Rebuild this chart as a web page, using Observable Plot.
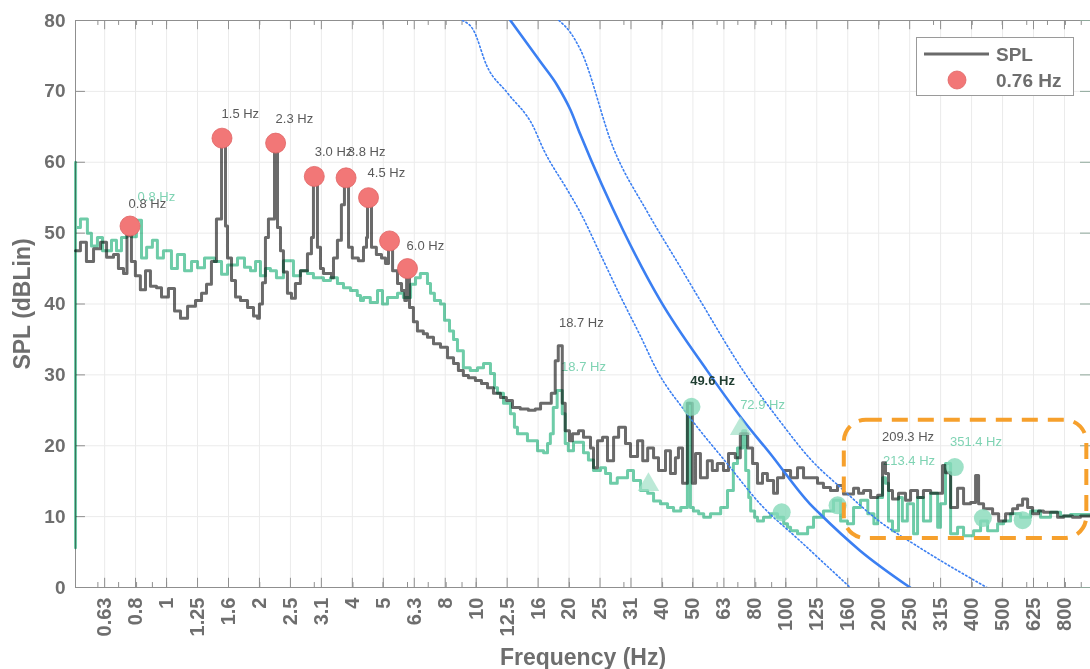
<!DOCTYPE html>
<html><head><meta charset="utf-8">
<script src="https://cdn.jsdelivr.net/npm/d3@7"></script>
<script src="https://cdn.jsdelivr.net/npm/@observablehq/plot@0.6"></script>
<style>
body{margin:0;background:#fff;}
#wrap{position:relative;width:1090px;height:669px;overflow:hidden;font-family:"Liberation Sans",Arial,sans-serif;}
#legend{position:absolute;left:916px;top:37px;width:158px;height:59px;border:1px solid #9a9a9a;background:#fff;box-sizing:border-box;}
#legend svg{position:absolute;left:0;top:0;}
</style></head>
<body><div id="wrap"><div id="legend"></div></div>
<script>
// ---- axis ticks ----
const xTicks = [0.631,0.794,1,1.259,1.585,1.995,2.512,3.162,3.981,5.012,6.31,7.943,10,12.59,15.85,19.95,25.12,31.62,39.81,50.12,63.1,79.43,100,125.9,158.5,199.5,251.2,316.2,398.1,501.2,631,794.3];
const xTickLabels = ["0.63","0.8","1","1.25","1.6","2","2.5","3.1","4","5","6.3","8","10","12.5","16","20","25","31","40","50","63","80","100","125","160","200","250","315","400","500","625","800"];
const xMinorTicks = [0.6,0.7,0.8,0.9,1,2,3,4,5,6,7,8,9,10,20,30,40,50,60,70,80,90,100,200,300,400,500,600,700,800,900];
const yTicks = [0,10,20,30,40,50,60,70,80];

// ---- grey SPL spectrum ----
const greyHz = [0.508,0.527,0.551,0.581,0.612,0.640,0.674,0.699,0.726,0.745,0.754,0.770,0.793,0.823,0.855,0.887,0.928,0.963,1.014,1.061,1.109,1.169,1.240,1.297,1.346,1.396,1.449,1.505,1.550,1.573,1.621,1.670,1.733,1.826,1.909,1.967,1.995,2.040,2.086,2.133,2.231,2.282,2.333,2.385,2.457,2.532,2.607,2.706,2.851,2.937,2.981,3.071,3.141,3.212,3.41,3.46,3.563,3.67,3.754,3.870,3.981,4.164,4.325,4.423,4.457,4.590,4.760,4.945,5.095,5.210,5.370,5.570,5.740,5.880,5.960,6.090,6.270,6.460,6.750,6.960,7.280,7.670,8.080,8.450,8.760,9.090,9.440,9.940,10.40,10.88,11.37,11.98,12.52,13.10,13.88,14.74,15.51,16.14,17.00,17.48,18.00,18.41,18.97,19.39,20.01,20.46,21.40,22.21,23.40,23.93,24.66,25.59,26.55,27.78,28.84,30.35,31.50,33.20,34.50,35.80,37.40,38.80,40.87,42.40,44.00,45.00,46.40,48.10,49.90,51.10,53.00,55.80,57.90,60.10,62.90,65.30,68.70,71.30,75.30,78.10,81.00,84.10,87.20,91.30,94.00,98.40,103.6,109.1,114.1,126.6,132.3,139.4,146.9,153.6,165.5,171.8,178.3,187.9,198.0,205.3,209.9,214.6,221.1,231.2,243.6,252.9,266.4,278.3,293.6,320.7,327.9,340.6,358.7,375.1,395.0,410.1,419.4,435.3,465.5,486.8,512.5,540,560.4,581.7,603.8,626.7,654.9,679.8,754.5,789,843.1,894.8,964];
const greyDb = [47.5,48.7,46.0,47.8,48.7,46.6,47.0,45.0,44.3,49.6,51.0,46.0,44.0,42.0,44.7,42.5,42.3,41.0,42.2,39.0,38.0,39.7,40.5,41.5,42.8,46.0,52.0,63.4,51.0,46.5,43.3,41.0,40.5,39.5,38.3,38.0,40.0,43.0,49.4,52.0,62.7,50.8,47.5,44.5,41.5,40.8,42.9,44.7,47.1,49.4,58.0,48.0,45.0,44.3,43.7,46.5,49.0,54.0,57.8,48.0,46.5,46.1,48.0,49.4,55.0,48.0,47.0,46.5,45.7,48.9,44.7,42.9,41.9,40.5,45.0,39.5,37.5,36.2,35.8,35.3,34.4,33.9,32.4,31.6,30.6,29.9,29.6,29.2,28.8,28.2,27.4,26.8,26.4,25.4,25.2,25.0,25.2,26.0,26.0,27.4,32.0,34.1,26.0,22.1,20.7,21.7,22.1,21.2,19.7,16.9,20.7,21.2,17.9,21.2,22.6,20.3,18.5,20.7,17.9,19.7,18.3,16.5,19.3,16.1,18.3,19.7,14.7,26.0,14.7,18.9,15.5,17.9,16.5,17.5,16.5,18.9,18.3,21.7,19.7,17.5,14.7,16.1,15.1,13.3,15.5,16.5,15.5,16.9,15.5,14.7,14.1,13.7,14.4,13.2,14.0,13.3,13.7,12.7,13.0,17.6,16.1,13.7,12.5,13.3,12.3,13.7,12.7,13.7,13.3,17.2,16.2,11.3,14.0,11.8,12.0,15.8,11.8,11.1,10.4,9.4,10.4,11.1,11.6,12.5,11.3,10.4,10.8,10.6,9.9,10.1,9.9,10.1,10.1];

// ---- teal second spectrum ----
const greenHz = [0.508,0.5081,0.5083,0.527,0.555,0.572,0.598,0.621,0.664,0.689,0.715,0.742,0.770,0.799,0.830,0.862,0.900,0.934,0.977,1.037,1.084,1.143,1.204,1.259,1.326,1.428,1.505,1.573,1.695,1.785,1.867,1.938,2.010,2.086,2.165,2.264,2.385,2.569,2.706,2.851,2.981,3.212,3.383,3.563,3.727,3.926,4.13,4.23,4.325,4.55,4.80,4.98,5.17,5.57,5.82,6.14,6.37,6.60,6.96,7.12,7.33,7.67,7.90,8.20,8.45,8.70,9.09,9.57,10.1,10.56,11.12,11.46,11.72,12.25,12.90,13.29,13.59,14.64,15.78,16.51,17.0,17.36,17.74,18.26,18.97,19.39,19.84,20.62,22.21,23.04,23.93,25.21,26.17,27.16,28.55,30.82,32.21,33.96,35.8,37.4,39.37,41.5,43.4,45.8,48.1,49.2,50.3,52.3,54.3,57.1,61.6,64.8,67.7,69.8,72.6,74.2,75.9,77.0,79.3,81.0,84.7,89.2,94.0,98.4,101.3,103.6,109.1,117.6,122.9,132.3,142.6,150.3,158.2,165.5,174.3,184.0,192.5,198.0,205.3,209.9,214.6,221.1,231.2,237.9,246.9,258.6,266.4,278.3,293.6,309.3,316,327.9,340.6,358.7,375.1,404.1,425.7,448.5,483.1,505,532,573,617.4,664.8,716.2,771.5,830.6,964];
const greenDb = [5.6,60,50.8,52,50,48.2,49.4,47.5,49,47.5,49.4,50.5,49.5,51.8,46.5,48,49,46.5,47.5,45,47,44.7,46,45.1,46.5,46,44.2,45.5,46.5,45.2,44.7,46,44,45,44.7,43.7,46.1,44,44.7,44.3,43.7,43.3,43.7,42.9,42.3,41.9,41.2,40.5,40.9,40.2,41.9,40,40.9,41.5,40.9,42.8,43.7,44.3,42.9,41.5,40.5,40,37.7,36.2,35,33.4,31,30.6,31,31.6,30.2,28.2,27.4,26,24.5,22.6,21.7,20.7,19.3,19,20.3,21.7,25.4,27.8,24.5,20.3,19.3,20.5,19,18,16.5,16.9,16.1,14.7,15.5,16.5,15.1,13.7,13.3,12.2,11.8,11.3,10.8,11.3,26,11.3,10.8,10.4,9.9,10.4,11.3,13.7,17.5,19.7,22.1,16.5,12.7,10.8,9.9,9.4,9.9,10.4,9.9,9.0,8.5,8.0,7.6,8.5,9.9,10.8,12.3,9.4,9.0,11.3,12.3,10.4,9.0,12.7,15.5,14.7,9.4,8.0,12.7,9.4,11.8,7.6,12.7,9.4,13.3,8.5,11.8,17.5,7.6,8.5,7.3,8.0,9.4,8.0,9.0,9.4,10.4,9.9,10.8,9.9,10.6,10.1,10.3,10.3];

// ---- blue reference curves ----
const blueHz = [12.9,16.1,18.3,20.15,21.7,29.9,39.3,55.7,72.8,89,119.6,128.8,173.8,252];
const blueDb = [80,74.2,70.8,67.4,63.9,50.3,40.5,30.6,23.6,18.9,11.8,10.4,5.2,0];
const lowerHz = [9.03,9.78,10.85,12.6,15.3,16.5,19.7,21.7,25.2,29.3,33.9,38.4,48.0,64.6,82.6,111,161.4];
const lowerDb = [80,78.7,73.5,69.8,65.0,61.8,56.1,52.9,47,41,35.5,30.6,24.5,17.5,11.8,6.6,0];
const upperHz = [18.5,20.15,21.7,27.8,35.7,45.8,52.9,72.8,95.6,119.6,153,197,271,446];
const upperDb = [80,78.3,75.9,61.9,53,45.1,40.5,30.6,23.5,18.2,13.8,9.6,5.6,0];

// ---- peak markers ----
const peakHz = [0.762,1.51,2.25,3.0,3.80,4.49,5.25,6.0];
const peakDb = [51.0,63.4,62.7,58.0,57.8,55.0,48.9,45.0];
const tealDotHz = [49.6,97,147,351.4,433,582];
const tealDotDb = [25.5,10.6,11.6,17.0,9.8,9.5];
const tealTriHz = [36,71.5];
const tealTriDb = [14.5,22.4];

// ---- annotations ----
const greyLabelText = ["0.8 Hz","1.5 Hz","2.3 Hz","3.0 Hz","3.8 Hz","4.5 Hz","6.0 Hz","18.7 Hz","209.3 Hz"];
const greyLabelHz = [0.754,1.505,2.25,3.01,3.85,4.46,5.96,18.5,204.5];
const greyLabelDb = [54.2,66.9,66.1,61.4,61.4,58.5,48.2,37.4,21.2];
const tealLabelText = ["0.8 Hz","18.7 Hz","72.9 Hz","213.4 Hz","351.4 Hz"];
const tealLabelHz = [0.806,18.8,71.2,206,339];
const tealLabelDb = [55.1,31.2,25.8,17.9,20.5];
const darkLabelText = ["49.6 Hz"];
const darkLabelHz = [49.1];
const darkLabelDb = [29.1];
const boxHz = [154.5,938];
const boxDb = [6.9,23.6];

const zipXY = (xs, ys) => xs.map((f, i) => ({f, db: ys[i]}));
const grey = zipXY(greyHz, greyDb);
const green = zipXY(greenHz, greenDb);
const blue = zipXY(blueHz, blueDb);
const lower = zipXY(lowerHz, lowerDb);
const upper = zipXY(upperHz, upperDb);
const peaks = zipXY(peakHz, peakDb);
const tealDots = zipXY(tealDotHz, tealDotDb);
const tealTris = zipXY(tealTriHz, tealTriDb);
const lbl = (t, xs, ys) => t.map((s, i) => ({text: s, f: xs[i], db: ys[i]}));
const greyLabels = lbl(greyLabelText, greyLabelHz, greyLabelDb);
const tealLabels = lbl(tealLabelText, tealLabelHz, tealLabelDb);
const darkLabels = lbl(darkLabelText, darkLabelHz, darkLabelDb);
const box = [{x1: boxHz[0], x2: boxHz[1], y1: boxDb[0], y2: boxDb[1]}];
const xTickData = xTicks.map((t, i) => ({f: t, label: xTickLabels[i]}));

const AX = "#6e6e6e";
const chart = Plot.plot({
  width: 1090, height: 669,
  marginLeft: 75, marginRight: 0, marginTop: 20, marginBottom: 82,
  style: {fontFamily: "'Liberation Sans', Arial, sans-serif", color: AX, background: "#fff", overflow: "visible"},
  x: {type: "log", domain: [0.508, 964], axis: null},
  y: {domain: [0, 80]},
  marks: [
    Plot.gridX(xTicks, {stroke: "#ebebeb", strokeOpacity: 1}),
    Plot.gridY(yTicks, {stroke: "#ebebeb", strokeOpacity: 1}),
    Plot.frame({stroke: "#8f8f8f"}),
    Plot.ruleX(xTicks, {y1: 0, y2: 1.3, stroke: "#8f8f8f"}),
    Plot.ruleX(xTicks, {y1: 78.7, y2: 80, stroke: "#8f8f8f"}),
    Plot.ruleX(xMinorTicks, {y1: 0, y2: 0.7, stroke: "#8f8f8f"}),
    Plot.ruleX(xMinorTicks, {y1: 79.3, y2: 80, stroke: "#8f8f8f"}),
    Plot.ruleY(yTicks, {x1: 0.508, x2: 0.547, stroke: "#8f8f8f"}),
    Plot.ruleY(yTicks, {x1: 895, x2: 964, stroke: "#8fa89b"}),
    Plot.text(xTickData, {x: "f", frameAnchor: "bottom", text: "label", rotate: -90, textAnchor: "end", lineAnchor: "middle", dy: 10, fontSize: 20, fontWeight: "bold", fill: AX}),
    Plot.axisY({ticks: yTicks, tickSize: 0, tickPadding: 10, fontSize: 19, fontWeight: "bold", label: null}),
    Plot.text(["Frequency (Hz)"], {frameAnchor: "bottom", dy: 70, lineAnchor: "middle", textAnchor: "middle", fontSize: 23, fontWeight: "bold", fill: AX}),
    Plot.text(["SPL (dBLin)"], {frameAnchor: "left", dx: -53, rotate: -90, textAnchor: "middle", lineAnchor: "middle", fontSize: 23, fontWeight: "bold", fill: AX}),
    Plot.text(tealLabels, {x: "f", y: "db", text: "text", textAnchor: "start", fill: "#7fd3b3", fontSize: 13}),
    Plot.line(green, {x: "f", y: "db", curve: "step-after", stroke: "#6ecca8", strokeWidth: 3, mixBlendMode: "multiply"}),
    Plot.line(grey, {x: "f", y: "db", curve: "step-after", stroke: "#6a6a6a", strokeWidth: 3, mixBlendMode: "multiply"}),
    Plot.line(lower, {x: "f", y: "db", curve: "monotone-x", stroke: "#3b7ff2", strokeWidth: 1.6, strokeDasharray: "1.5,2.5", clip: true}),
    Plot.line(upper, {x: "f", y: "db", curve: "monotone-x", stroke: "#3b7ff2", strokeWidth: 1.6, strokeDasharray: "1.5,2.5", clip: true}),
    Plot.line(blue, {x: "f", y: "db", curve: "monotone-x", stroke: "#3b7ff2", strokeWidth: 2.6, clip: true}),
    Plot.dot(tealDots, {x: "f", y: "db", r: 9, fill: "#86d9b9", fillOpacity: 0.8}),
    Plot.dot(tealTris, {x: "f", y: "db", r: 8, symbol: "triangle", fill: "#9fe0c6", fillOpacity: 0.7}),
    Plot.dot(peaks, {x: "f", y: "db", r: 10, fill: "#f27777", stroke: "#e06464", strokeWidth: 0.8}),
    Plot.text(greyLabels, {x: "f", y: "db", text: "text", textAnchor: "start", fill: "#5a5a5a", fontSize: 13}),
    Plot.text(darkLabels, {x: "f", y: "db", text: "text", textAnchor: "start", fill: "#1f3d31", fontSize: 13, fontWeight: "bold"}),
    Plot.rect(box, {x1: "x1", x2: "x2", y1: "y1", y2: "y2", rx: 22, fill: "none", stroke: "#f6a02c", strokeWidth: 4, strokeDasharray: "16,10"})
  ]
});
document.getElementById("wrap").insertBefore(chart, document.getElementById("legend"));

// legend (inside plot, top-right)
const lg = d3.select("#legend").append("svg").attr("width", 158).attr("height", 59)
  .style("font-family", "'Liberation Sans', Arial, sans-serif");
lg.append("line").attr("x1", 7).attr("x2", 72).attr("y1", 16).attr("y2", 16).attr("stroke", "#6a6a6a").attr("stroke-width", 3);
lg.append("text").attr("x", 79).attr("y", 16).attr("dy", "0.35em").attr("font-size", 19).attr("font-weight", "bold").attr("fill", AX).text("SPL");
lg.append("circle").attr("cx", 40).attr("cy", 42).attr("r", 9).attr("fill", "#f27777").attr("stroke", "#e06464").attr("stroke-width", 0.8);
lg.append("text").attr("x", 79).attr("y", 42).attr("dy", "0.35em").attr("font-size", 19).attr("font-weight", "bold").attr("fill", AX).text("0.76 Hz");
</script></body></html>
